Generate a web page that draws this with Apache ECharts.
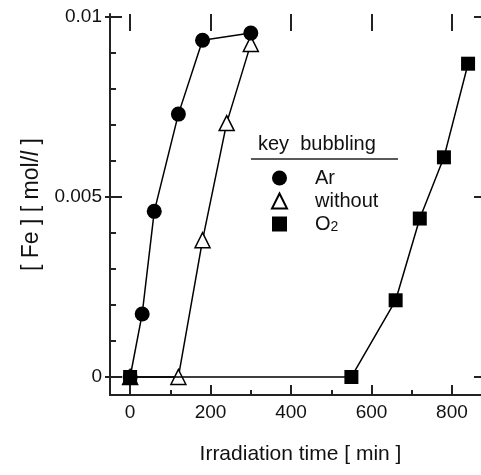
<!DOCTYPE html>
<html>
<head>
<meta charset="utf-8">
<script src="https://cdn.jsdelivr.net/npm/echarts@6/dist/echarts.min.js"></script>
<style>
  html, body { margin: 0; padding: 0; background: #fff; }
  #main { width: 481px; height: 475px; }
</style>
</head>
<body>
<div id="main"></div>
<script>
// 数据
const arData = [[0, 0], [30, 0.00175], [60, 0.0046], [120, 0.0073], [180, 0.00935], [300, 0.00955]];
const withoutData = [[0, 0], [120, 0], [180, 0.0038], [240, 0.00705], [300, 0.00925]];
const o2Data = [[0, 0], [550, 0], [660, 0.00213], [720, 0.0044], [780, 0.0061], [840, 0.0087]];

const xLabels = [0, 200, 400, 600, 800];
const xMinor = [100, 300, 500, 700];
const yLabels = [0, 0.005, 0.01];
const yMinor = [0.001, 0.002, 0.003, 0.004, 0.006, 0.007, 0.008, 0.009];

const FONT = 'Liberation Sans, Arial, sans-serif';
const INK = '#222';
// 右边框在画面外一点(原图被裁掉)
const X_MIN = -50, X_MAX = 897;
const Y_MIN = -0.0005, Y_MAX = 0.01008;

const chart = echarts.init(document.getElementById('main'));

// 坐标轴公共部分
function xAxisBase(extra) {
  return Object.assign({
    type: 'value', min: X_MIN, max: X_MAX,
    splitLine: { show: false },
    axisLine: { show: false, onZero: false },
    axisLabel: { show: false },
    axisTick: { show: false }
  }, extra);
}
function yAxisBase(extra) {
  return Object.assign({
    type: 'value', min: Y_MIN, max: Y_MAX,
    splitLine: { show: false },
    axisLine: { show: false, onZero: false },
    axisLabel: { show: false },
    axisTick: { show: false }
  }, extra);
}

const option = {
  animation: false,
  backgroundColor: '#fff',
  grid: { left: 110, right: -10, top: 14, bottom: 80, outerBoundsMode: 'none', containLabel: false },
  xAxis: [
    xAxisBase({
      position: 'bottom',
      name: 'Irradiation time [ min ]',
      nameLocation: 'middle',
      nameGap: 49,
      nameTextStyle: { fontFamily: FONT, fontSize: 21, color: '#111' },
      axisLine: { show: true, onZero: false, lineStyle: { color: INK, width: 2 } },
      axisTick: { show: true, inside: true, length: 10, customValues: xLabels, lineStyle: { color: INK, width: 2 } },
      axisLabel: { show: true, customValues: xLabels, margin: 8, fontFamily: FONT, fontSize: 19, color: '#111' }
    }),
    xAxisBase({
      position: 'bottom',
      axisTick: { show: true, inside: true, length: 5, customValues: xMinor, lineStyle: { color: INK, width: 2 } }
    }),
    xAxisBase({
      position: 'top',
      axisTick: { show: true, inside: true, length: 17, customValues: xLabels, lineStyle: { color: INK, width: 2 } }
    })
  ],
  yAxis: [
    yAxisBase({
      position: 'left',
      name: '[ Fe ] [ mol/{i|l} ]',
      nameLocation: 'middle',
      nameGap: 64,
      nameTextStyle: {
        fontFamily: FONT, fontSize: 23, color: '#111',
        rich: { i: { fontFamily: FONT, fontSize: 23, fontStyle: 'italic', color: '#111' } }
      },
      axisLine: { show: true, onZero: false, lineStyle: { color: INK, width: 2 } },
      axisTick: { show: true, inside: true, length: 12, customValues: yLabels, lineStyle: { color: INK, width: 2 } },
      axisLabel: { show: true, customValues: yLabels, margin: 8, fontFamily: FONT, fontSize: 19, color: '#111' }
    }),
    yAxisBase({
      position: 'left',
      axisTick: { show: true, inside: false, length: 5, customValues: yLabels, lineStyle: { color: INK, width: 2 } }
    }),
    yAxisBase({
      position: 'left',
      axisTick: { show: true, inside: true, length: 6, customValues: yMinor, lineStyle: { color: INK, width: 2 } }
    }),
    yAxisBase({
      position: 'right',
      axisTick: { show: true, inside: true, length: 17, customValues: yLabels, lineStyle: { color: INK, width: 2 } }
    })
  ],
  legend: {
    orient: 'vertical',
    left: 266,
    top: 163,
    itemWidth: 15,
    itemHeight: 15,
    itemGap: 3,
    selectedMode: false,
    data: [
      { name: 'Ar', icon: 'circle' },
      { name: 'without', icon: 'triangle' },
      { name: 'O2', icon: 'rect' }
    ],
    formatter: function (name) {
      return name === 'O2' ? '{n|O}{s|2}' : '{n|' + name + '}';
    },
    textStyle: {
      padding: [0, 0, 0, 23],
      rich: {
        n: { fontFamily: FONT, fontSize: 20, lineHeight: 20, color: '#111' },
        s: { fontFamily: FONT, fontSize: 14, lineHeight: 12, verticalAlign: 'bottom', color: '#111' }
      }
    }
  },
  graphic: [
    {
      type: 'text', left: 258, top: 134,
      style: { text: 'key  bubbling', font: '20px ' + FONT, fill: '#111' }
    },
    {
      type: 'line',
      shape: { x1: 251, y1: 159, x2: 398, y2: 159 },
      style: { stroke: INK, lineWidth: 1.5 }
    }
  ],
  series: [
    {
      name: 'without', type: 'line', data: withoutData,
      symbol: 'triangle', symbolSize: 15,
      lineStyle: { color: '#000', width: 1.5 },
      itemStyle: { color: '#fff', borderColor: '#000', borderWidth: 1.5 },
      z: 2
    },
    {
      name: 'Ar', type: 'line', data: arData,
      symbol: 'circle', symbolSize: 15,
      lineStyle: { color: '#000', width: 1.5 },
      itemStyle: { color: '#000', borderColor: '#000', borderWidth: 0 },
      z: 3
    },
    {
      name: 'O2', type: 'line', data: o2Data,
      symbol: 'rect', symbolSize: 14,
      lineStyle: { color: '#000', width: 1.5 },
      itemStyle: { color: '#000', borderColor: '#000', borderWidth: 0 },
      z: 4
    }
  ]
};

chart.setOption(option);
</script>
</body>
</html>
